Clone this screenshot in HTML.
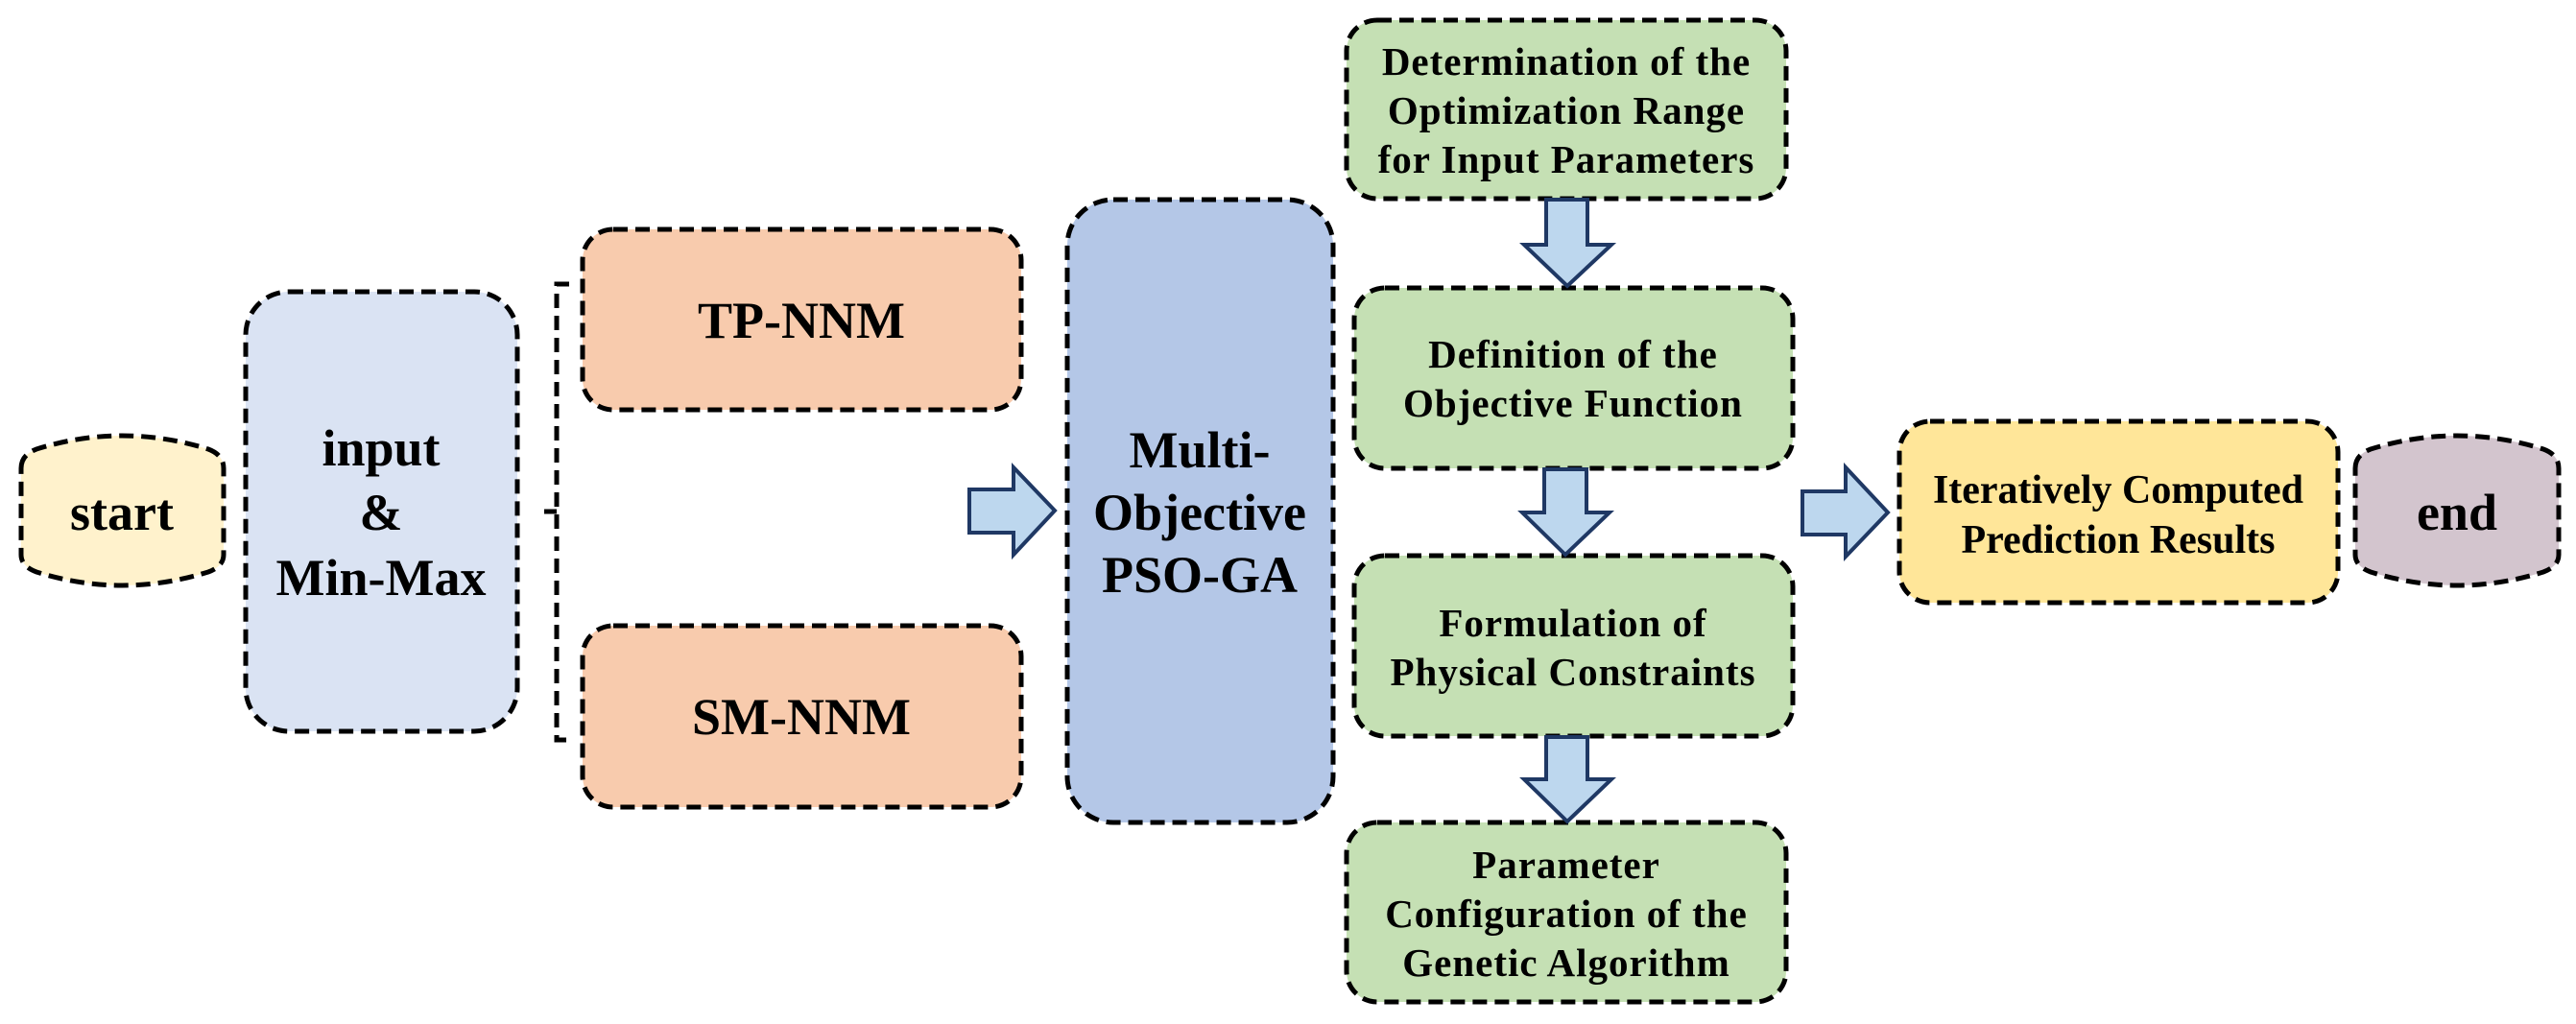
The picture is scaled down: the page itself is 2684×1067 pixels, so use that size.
<!DOCTYPE html>
<html><head><meta charset="utf-8"><style>
html,body{margin:0;padding:0;background:#fff;}
svg{display:block;}
text{font-family:"Liberation Serif",serif;font-weight:bold;fill:#000;text-anchor:middle;}
</style></head><body>
<svg width="2684" height="1067" viewBox="0 0 2684 1067" xmlns="http://www.w3.org/2000/svg">
<g stroke="#000" stroke-width="5" stroke-dasharray="15,8">
<!-- start cylinder -->
<path d="M22,488 Q22,474 38,468 Q127,440 217,468 Q233,474 233,488 L233,578 Q233,590 217,596 Q127,624 38,596 Q22,590 22,578 Z" fill="#FFF2CC"/>
<!-- end cylinder -->
<path d="M2454,488 Q2454,474 2470,468 Q2560,440 2650,468 Q2666,474 2666,488 L2666,578 Q2666,590 2650,596 Q2560,624 2470,596 Q2454,590 2454,578 Z" fill="#D3C5CE"/>
<rect x="256" y="304" width="283" height="458" rx="45" fill="#DAE3F3"/>
<rect x="607" y="239" width="457" height="188" rx="32" fill="#F8CBAD"/>
<rect x="607" y="652" width="457" height="189" rx="32" fill="#F8CBAD"/>
<rect x="1112" y="208" width="277" height="649" rx="48" fill="#B4C7E7"/>
<rect x="1403" y="21" width="458" height="186" rx="32" fill="#C5E0B4"/>
<rect x="1411" y="300" width="457" height="188" rx="32" fill="#C5E0B4"/>
<rect x="1411" y="579" width="457" height="188" rx="32" fill="#C5E0B4"/>
<rect x="1403" y="857" width="458" height="187" rx="32" fill="#C5E0B4"/>
<rect x="1979" y="439" width="457" height="189" rx="32" fill="#FFE699"/>
<path d="M593,296 L580,296 L580,771 L593,771 M580,533 L567,533" fill="none"/>
</g>
<g fill="#BDD7EE" stroke="#1F3864" stroke-width="4" stroke-linejoin="miter">
<path d="M1010,510 L1056,510 L1056,487 L1099,532 L1056,578 L1056,555 L1010,555 Z"/>
<path d="M1878,512 L1923,512 L1923,487 L1967,534 L1923,580 L1923,557 L1878,557 Z"/>
<path d="M1611,208 L1654,208 L1654,255 L1679,255 L1633,298 L1588,255 L1611,255 Z"/>
<path d="M1609,489 L1653,489 L1653,534 L1677,534 L1631,578 L1586,534 L1609,534 Z"/>
<path d="M1611,768 L1654,768 L1654,812 L1679,812 L1633,856 L1588,812 L1611,812 Z"/>
</g>
<text x="127" y="552" font-size="54">start</text>
<text x="2560" y="552" font-size="54">end</text>
<text x="397" y="485" font-size="54">input</text>
<text x="397" y="552" font-size="54">&amp;</text>
<text x="397" y="620" font-size="54">Min-Max</text>
<text x="835" y="352" font-size="54">TP-NNM</text>
<text x="835" y="765" font-size="54">SM-NNM</text>
<text x="1250" y="487" font-size="54">Multi-</text>
<text x="1250" y="552" font-size="54">Objective</text>
<text x="1250" y="617" font-size="54">PSO-GA</text>
<g font-size="41" letter-spacing="1">
<text x="1632" y="78">Determination of the</text>
<text x="1632" y="129">Optimization Range</text>
<text x="1632" y="180">for Input Parameters</text>
<text x="1639" y="383">Definition of the</text>
<text x="1639" y="434">Objective Function</text>
<text x="1639" y="663">Formulation of</text>
<text x="1639" y="714">Physical Constraints</text>
<text x="1632" y="915">Parameter</text>
<text x="1632" y="966">Configuration of the</text>
<text x="1632" y="1017">Genetic Algorithm</text>
</g>
<text x="2207" y="524" font-size="42">Iteratively Computed</text>
<text x="2207" y="576" font-size="42">Prediction Results</text>
</svg>
</body></html>
